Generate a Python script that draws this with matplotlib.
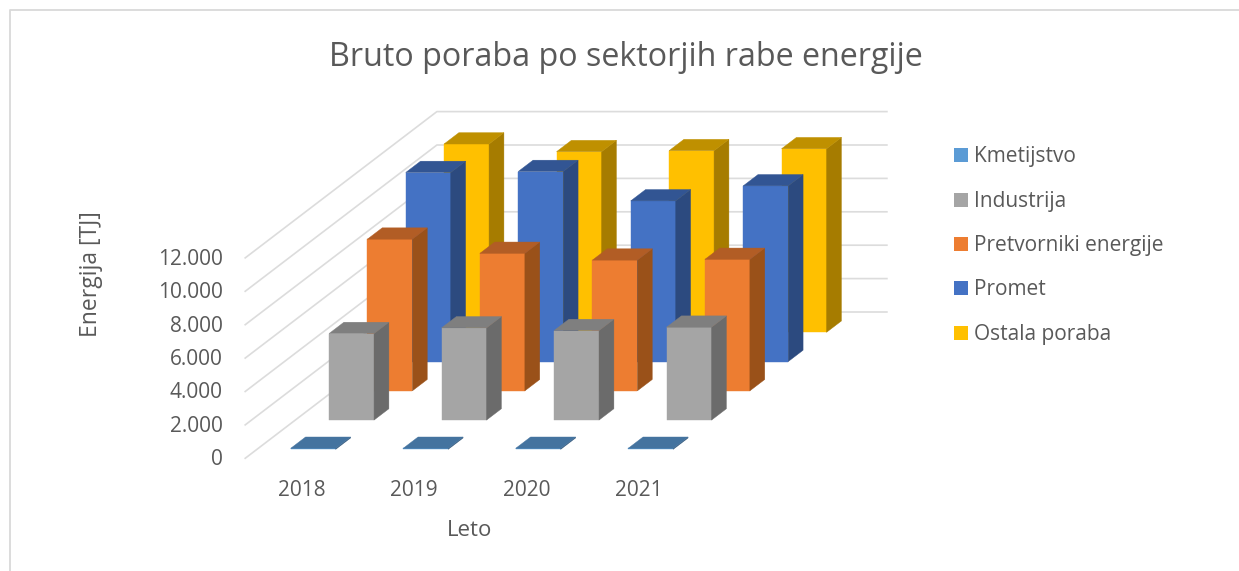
import matplotlib
matplotlib.use('Agg')
import matplotlib.pyplot as plt
from matplotlib.patches import Polygon, Rectangle

years = ['2018', '2019', '2020', '2021']
series_names = ['Kmetijstvo', 'Industrija', 'Pretvorniki energije', 'Promet', 'Ostala poraba']
kmetijstvo = [60, 60, 60, 60]
industrija = [5180, 5520, 5360, 5560]
pretvorniki = [9080, 8230, 7825, 7870]
promet = [11320, 11380, 9620, 10520]
ostala = [11275, 10815, 10875, 10990]
y_ticks = [0, 2000, 4000, 6000, 8000, 10000, 12000]
y_tick_labels = ['0', '2.000', '4.000', '6.000', '8.000', '10.000', '12.000']

# front, top, side colours per series
colors = [('#5B9BD5', '#44739F', '#35597C'),
          ('#A5A5A5', '#7F7F7F', '#6B6B6B'),
          ('#ED7D31', '#B25D25', '#9A5119'),
          ('#4472C4', '#325593', '#2C4A7F'),
          ('#FFC000', '#BF9000', '#A67C00')]

TEXT = '#595959'
FONT = 'Open Sans'

# oblique projection of the excel 3d chart, in pixels
X0, Y0 = 245.2, 458.3
CAT_W = 112.5
DEPTH_X, DEPTH_Y = 191.7, 146.3
PX_PER_UNIT = 33.4 / 2000
BAR_W = 0.4
BAR_D = 0.0775


def project(cat, depth, value):
    x = X0 + CAT_W * cat + DEPTH_X * depth
    y = Y0 - DEPTH_Y * depth - value * PX_PER_UNIT
    return x, y


fig = plt.figure(figsize=(12.39, 5.71), dpi=100)
ax = fig.add_axes([0, 0, 1, 1])
ax.set_xlim(0, 1239)
ax.set_ylim(571, 0)
ax.axis('off')

# chart border, only left and top are visible in the crop
ax.plot([9.5, 9.5, 1239], [571, 9.5, 9.5], color='#D9D9D9', lw=1.3, zorder=1)

# gridlines along side wall and back wall
for t in y_ticks:
    p1 = project(0, 0, t)
    p2 = project(0, 1, t)
    p3 = project(4, 1, t)
    ax.plot([p1[0], p2[0], p3[0]], [p1[1], p2[1], p3[1]], color='#DCDCDC', lw=1.2, zorder=2)
    ax.text(223, p1[1] + 1.5, y_tick_labels[t // 2000], ha='right', va='center',
            fontsize=15, color=TEXT, family=FONT)

all_values = [kmetijstvo, industrija, pretvorniki, promet, ostala]
z = 3
# back series first so front bars cover them
for s in range(4, -1, -1):
    front_col, top_col, side_col = colors[s]
    for c in range(4):
        v = all_values[s][c]
        c0 = c + (1 - BAR_W) / 2
        c1 = c0 + BAR_W
        d0 = (s + 0.5) / 5 - BAR_D / 2
        d1 = d0 + BAR_D
        front = [project(c0, d0, 0), project(c1, d0, 0), project(c1, d0, v), project(c0, d0, v)]
        top = [project(c0, d0, v), project(c1, d0, v), project(c1, d1, v), project(c0, d1, v)]
        side = [project(c1, d0, 0), project(c1, d1, 0), project(c1, d1, v), project(c1, d0, v)]
        for pts, col in [(front, front_col), (side, side_col), (top, top_col)]:
            ax.add_patch(Polygon(pts, closed=True, facecolor=col, edgecolor=col, lw=0.3, zorder=z))
    z += 1

for c, year in enumerate(years):
    ax.text(project(c + 0.5, 0, 0)[0], 490, year, ha='center', va='center',
            fontsize=15, color=TEXT, family=FONT)

ax.text(625.5, 57, 'Bruto poraba po sektorjih rabe energije', ha='center', va='center',
        fontsize=23.2, color=TEXT, family=FONT)
ax.text(470, 530, 'Leto', ha='center', va='center', fontsize=16, color=TEXT, family=FONT)
ax.text(91, 274, 'Energija [TJ]', ha='center', va='center', rotation=90,
        fontsize=16.5, color=TEXT, family=FONT)

# legend by hand so the spacing follows the original
legend_y = [155, 199.7, 244, 288, 333]
for name, col, ly in zip(series_names, colors, legend_y):
    ax.add_patch(Rectangle((954, ly - 7), 14, 14, facecolor=col[0], edgecolor='none', zorder=10))
    ax.text(974, ly + 1.5, name, ha='left', va='center', fontsize=15, color=TEXT, family=FONT)

fig.savefig('out.png', dpi=100)
